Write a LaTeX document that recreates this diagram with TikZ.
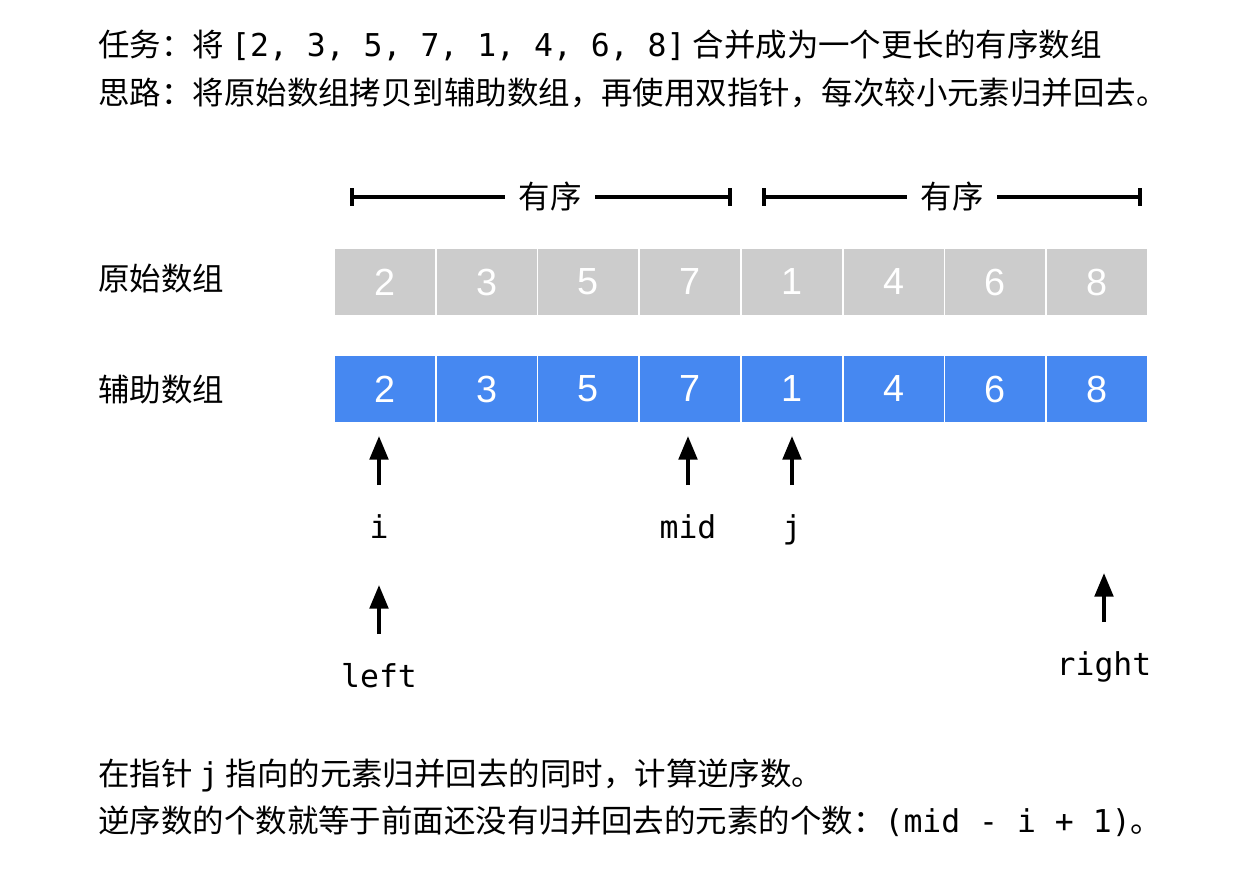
\documentclass[tikz,border=0pt]{standalone}
\usepackage{fontspec}
\setmainfont{Noto Sans CJK SC}
\setmonofont{DejaVu Sans Mono}
\newfontfamily\cellfont{Liberation Sans}
\usetikzlibrary{arrows.meta,positioning}
\definecolor{cellgray}{HTML}{CCCCCC}
\definecolor{cellblue}{HTML}{4688F1}

\begin{document}
\begin{tikzpicture}[x=0.02cm,y=-0.02cm,
      every node/.style={inner sep=0pt,font=\fontsize{17.9}{21}\selectfont},
      cell/.style={draw=white,line width=1.1pt,minimum width=2.035cm,
        minimum height=1.36cm,text=white,font=\cellfont\fontsize{21.5}{24}\selectfont},
      span/.style={line width=2pt,{Bar[width=10pt,line width=2.4pt]}-{Bar[width=10pt,line width=2.4pt]}},
      ptr/.style={line width=2.3pt,-{Triangle[length=13.5pt,width=10.5pt]}}]
   \useasboundingbox(0,0)rectangle(1244,892);
   % header
   \node[anchor=base west](task)at(98,57){任务：将 \texttt{[2, 3, 5, 7, 1, 4, 6, 8]} 合并成为一个更长的有序数组};
   \node[anchor=base west](idea)at(98,105){思路：将原始数组拷贝到辅助数组，再使用双指针，每次较小元素归并回去。};
   % sorted halves
   \coordinate(la)at(350,197);\coordinate(lb)at(732,197);
   \coordinate(ra)at(762,197);\coordinate(rb)at(1142,197);
   \draw[span](la)--node[pos=0.524,fill=white,inner xsep=0.27cm,inner ysep=3pt]{有序}(lb);
   \draw[span](ra)--node[pos=0.5,fill=white,inner xsep=0.27cm,inner ysep=3pt]{有序}(rb);
   % arrays
   \node[anchor=base west](orig)at(98,290){原始数组};
   \node[anchor=base west](aux)at(98,401){辅助数组};
   \foreach \v[count=\k] in {2,3,5,7,1,4,6,8}{
      \node[cell,fill=cellgray](o\k)at(334+101.75*\k-50.875,282){\v};
      \node[cell,fill=cellblue](a\k)at(334+101.75*\k-50.875,389){\v};
   }
   % pointers
   \node[anchor=base](i)at(379,538){\texttt{i}};
   \node[anchor=base](mid)at(688,538){\texttt{mid}};
   \node[anchor=base](j)at(792,538){\texttt{j}};
   \node[anchor=base](left)at(379,687){\texttt{left}};
   \node[anchor=base](right)at(1104,675){\texttt{right}};
   \foreach \p in {i,mid,j,left,right}
      \draw[ptr]([yshift=1.06cm]\p.base)--++(0,-49);
   % notes
   \node[anchor=base west](note1)at(98,785){在指针 \texttt{j} 指向的元素归并回去的同时，计算逆序数。};
   \node[anchor=base west](note2)at(98,832){逆序数的个数就等于前面还没有归并回去的元素的个数：\texttt{(mid - i + 1)}。};
\end{tikzpicture}
\end{document}
